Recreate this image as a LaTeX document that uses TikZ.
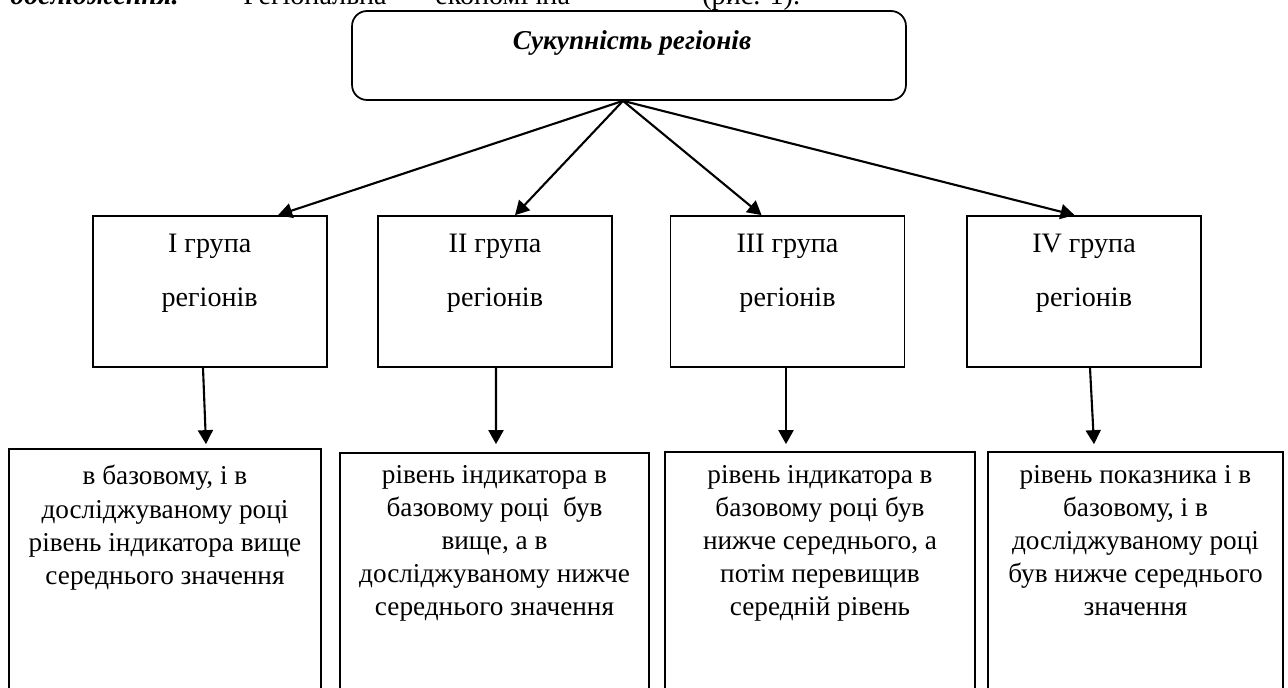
\documentclass[tikz,border=0pt]{standalone}
\usepackage{fontspec}
\setmainfont{Liberation Serif}
\usepackage{tikz}
\usetikzlibrary{calc,shapes,positioning}
\usetikzlibrary{arrows.meta}
\tikzset{>={Triangle[width=3mm,length=2.8mm]}}

\begin{document}
\begin{tikzpicture}[x=0.02cm,y=-0.02cm]
  \tikzstyle{tnode} = [draw=black, line width=1pt, rectangle, rounded corners=3mm, minimum width=11.08cm, minimum height=1.78cm, inner sep=0pt]
  \tikzstyle{gnode} = [draw=black, line width=1pt, rectangle, minimum width=4.68cm, minimum height=3.02cm, inner sep=0pt]
  \tikzstyle{rnode} = [draw=black, line width=1pt, rectangle, minimum height=5.42cm, inner sep=0pt]
  \tikzstyle{gtext} = [align=center, inner sep=0pt, font=\fontsize{16}{30.7}\selectfont]
  \tikzstyle{rtext} = [align=center, anchor=north, inner sep=0pt, font=\fontsize{15.5}{18.8}\selectfont]
  \tikzstyle{ptext} = [anchor=base west, inner sep=0pt, font=\fontsize{16}{19}\selectfont]
  \tikzstyle{arr} = [->, line width=1.2pt]

  \clip (0,0) rectangle (1288,688);

  % line of the page above the figure (cut off)
  \node[ptext] (p1) at (10,5) {\textbf{\textit{дослідження.}}};
  \node[ptext] (p2) at (243,5) {Регіональна};
  \node[ptext] (p3) at (435,5) {економічна};
  \node[ptext] (p4) at (702,5) {(рис. 1).};

  \node[tnode] (all) at (629,55.5) {};
  \node[anchor=base, inner sep=0pt, font=\fontsize{15.5}{18}\selectfont\bfseries\itshape] (title) at ($(all.north)+(3,39)$) {Сукупність регіонів};

  \node[gnode] (g1) at (209.7,291.5) {};
  \node[gtext] at ($(g1)+(0,-18.5)$) {I група\\регіонів};
  \node[gnode] (g2) at (495,291.5) {};
  \node[gtext] at ($(g2)+(0,-18.5)$) {II група\\регіонів};
  \node[gnode] (g3) at (787.5,291.5) {};
  \node[gtext] at ($(g3)+(0,-18.5)$) {III група\\регіонів};
  \node[gnode] (g4) at (1084,291.5) {};
  \node[gtext] at ($(g4)+(0,-18.5)$) {IV група\\регіонів};

  \node[rnode, minimum width=6.24cm] (r1) at (165,584.5) {};
  \node[rtext] at ($(r1.north)+(0,17)$) {в базовому, і в\\досліджуваному році\\рівень індикатора вище\\середнього значення};
  \node[rnode, minimum width=6.18cm] (r2) at (494.5,588.5) {};
  \node[rtext] at ($(r2.north)+(0,13)$) {рівень індикатора в\\базовому році \ був\\вище, а в\\досліджуваному нижче\\середнього значення};
  \node[rnode, minimum width=6.2cm] (r3) at (820,587.5) {};
  \node[rtext] at ($(r3.north)+(0,14)$) {рівень індикатора в\\базовому році був\\нижче середнього, а\\потім перевищив\\середній рівень};
  \node[rnode, minimum width=5.9cm] (r4) at (1135.5,587.5) {};
  \node[rtext] at ($(r4.north)+(0,14)$) {рівень показника і в\\базовому, і в\\досліджуваному році\\був нижче середнього\\значення};

  \coordinate (hub) at ($(all.south)+(-6,0)$);
  \draw[arr] (hub) -- ($(g1.north west)!0.79!(g1.north east)$);
  \draw[arr] (hub) -- ($(g2.north west)!0.585!(g2.north east)$);
  \draw[arr] (hub) -- ($(g3.north west)!0.39!(g3.north east)$);
  \draw[arr] (hub) -- ($(g4.north west)!0.46!(g4.north east)$);

  \draw[arr] ($(g1.south)+(-6.7,0)$) -- ($(r1.north)+(41,-4)$);
  \draw[arr] ($(g2.south)+(1,0)$) -- ($(r2.north)+(1.5,-8)$);
  \draw[arr] ($(g3.south)+(-1.5,0)$) -- ($(r3.north)+(-34,-7)$);
  \draw[arr] ($(g4.south)+(6,0)$) -- ($(r4.north)+(-41.5,-7)$);
\end{tikzpicture}
\end{document}
